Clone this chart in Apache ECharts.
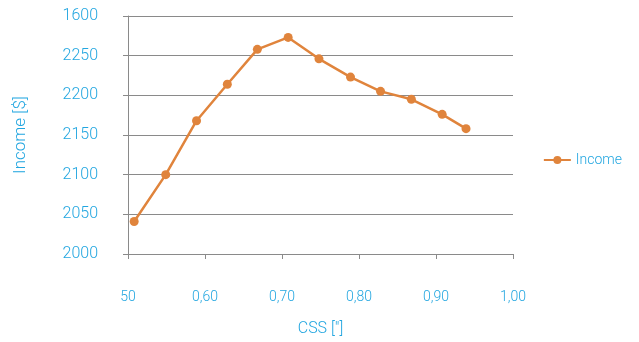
<!DOCTYPE html>
<html>
<head>
<meta charset="utf-8">
<script src="https://cdn.jsdelivr.net/npm/echarts@6/dist/echarts.min.js"></script>
<style>
  html, body { margin: 0; padding: 0; background: #ffffff; }
  #chart { width: 639px; height: 342px; }
</style>
</head>
<body>
<div id="chart"></div>
<script>
// CSS ratio vs. income
const cssValues = [0.508, 0.549, 0.589, 0.629, 0.668, 0.708, 0.748, 0.789, 0.828, 0.868, 0.908, 0.939];
const incomeValues = [2041, 2100, 2168, 2214, 2258, 2273, 2246, 2223, 2205, 2195, 2176, 2158];
const xTickLabels = ['50', '0,60', '0,70', '0,80', '0,90', '1,00'];
const yTickLabels = ['2000', '2050', '2100', '2150', '2200', '2250', '1600'];

const blue = '#22a6e0';
const orange = '#e0843c';
const gridGray = '#8a8a8a';
const fontFamily = 'Roboto, "Open Sans", sans-serif';

const chart = echarts.init(document.getElementById('chart'));
chart.setOption({
  animation: false,
  grid: { left: 128, right: 126, top: 16, bottom: 84, containLabel: false },
  legend: {
    data: ['Income'],
    right: 12,
    top: 148,
    orient: 'vertical',
    itemWidth: 27,
    itemHeight: 10,
    itemGap: 8,
    textStyle: { color: blue, fontSize: 14, fontFamily: fontFamily, fontWeight: 300 }
  },
  xAxis: {
    type: 'value',
    min: 0.5,
    max: 1.0,
    interval: 0.1,
    name: 'CSS ["]',
    nameLocation: 'middle',
    nameGap: 67,
    nameTextStyle: { color: blue, fontSize: 16, fontFamily: fontFamily, fontWeight: 300 },
    axisLine: { show: true, lineStyle: { color: gridGray, width: 1 } },
    axisTick: { show: true, length: 5, inside: false, lineStyle: { color: gridGray } },
    splitLine: { show: false },
    axisLabel: {
      color: blue, fontSize: 14, fontFamily: fontFamily, fontWeight: 300, margin: 36,
      formatter: function (v) {
        const i = Math.round((v - 0.5) / 0.1);
        return xTickLabels[i] !== undefined ? xTickLabels[i] : '';
      }
    }
  },
  yAxis: {
    type: 'value',
    min: 2000,
    max: 2300,
    interval: 50,
    name: 'Income [$]',
    nameLocation: 'middle',
    nameGap: 99,
    nameRotate: 90,
    nameTextStyle: { color: blue, fontSize: 17, fontFamily: fontFamily, fontWeight: 300 },
    axisLine: { show: true, lineStyle: { color: gridGray, width: 1 } },
    axisTick: { show: true, length: 5, lineStyle: { color: gridGray } },
    splitLine: { show: true, lineStyle: { color: gridGray, width: 1 } },
    axisLabel: {
      color: blue, fontSize: 16, fontFamily: fontFamily, fontWeight: 300, margin: 30,
      formatter: function (v) {
        const i = Math.round((v - 2000) / 50);
        return yTickLabels[i] !== undefined ? yTickLabels[i] : '';
      }
    }
  },
  series: [{
    name: 'Income',
    type: 'line',
    data: cssValues.map((x, i) => [x, incomeValues[i]]),
    symbol: 'circle',
    symbolSize: 9,
    lineStyle: { color: orange, width: 2.5 },
    itemStyle: { color: orange },
    emphasis: { disabled: true }
  }]
});
</script>
</body>
</html>
